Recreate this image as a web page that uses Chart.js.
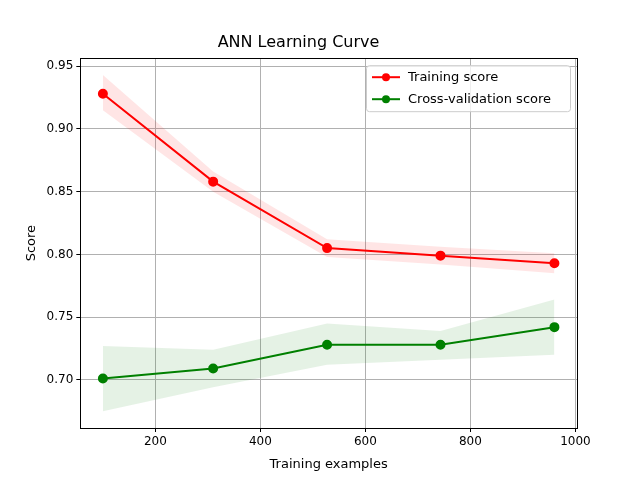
<!DOCTYPE html>
<html><head><meta charset="utf-8">
<script src="https://cdn.jsdelivr.net/npm/chart.js@4/dist/chart.umd.min.js"></script>
<style>body{margin:0;background:#fff}#wrap{width:640px;height:480px}</style>
</head><body><div id="wrap"><canvas id="c"></canvas></div>
<script>
const sizes = [100, 310, 527, 743, 960];
const trainMean = [0.928, 0.858, 0.805, 0.799, 0.793];
const trainHi = [0.943, 0.866, 0.812, 0.806, 0.801];
const trainLo = [0.915, 0.850, 0.798, 0.792, 0.785];
const cvMean = [0.701, 0.709, 0.728, 0.728, 0.742];
const cvHi = [0.727, 0.724, 0.745, 0.739, 0.764];
const cvLo = [0.675, 0.694, 0.712, 0.716, 0.720];
const xTicks = [200, 400, 600, 800, 1000];
const yTicks = [0.70, 0.75, 0.80, 0.85, 0.90, 0.95];

const pts = arr => arr.map((v, i) => ({x: sizes[i], y: v}));
const band = (arr, color, fill) => ({data: pts(arr), borderWidth: 0, pointRadius: 0, showLine: true,
  backgroundColor: color, fill: fill, tension: 0});

// рамка вокруг области графика и легенда внутри неё
const frameAndLegend = {
  id: 'frameAndLegend',
  afterDraw(chart) {
    const {ctx, chartArea: a} = chart;
    ctx.save();
    ctx.strokeStyle = '#000'; ctx.lineWidth = 1;
    ctx.strokeRect(Math.round(a.left) + 0.5, Math.round(a.top) + 0.5,
      Math.round(a.right - a.left), Math.round(a.bottom - a.top));
    const w = 204, h = 46, x = a.right - w - 7, y = a.top + 7;
    ctx.fillStyle = 'rgba(255,255,255,0.8)'; ctx.strokeStyle = '#ccc';
    ctx.beginPath(); ctx.roundRect(x + 0.5, y + 0.5, w, h, 3); ctx.fill(); ctx.stroke();
    const items = [['Training score', 'red'], ['Cross-validation score', 'green']];
    ctx.font = '13px "DejaVu Sans"'; ctx.textBaseline = 'middle';
    items.forEach(([t, c], i) => {
      const yy = y + 12 + i * 22;
      ctx.strokeStyle = c; ctx.lineWidth = 2;
      ctx.beginPath(); ctx.moveTo(x + 6, yy); ctx.lineTo(x + 34, yy); ctx.stroke();
      ctx.fillStyle = c; ctx.beginPath(); ctx.arc(x + 20, yy, 4, 0, Math.PI * 2); ctx.fill();
      ctx.fillStyle = '#000'; ctx.fillText(t, x + 42, yy);
    });
    ctx.restore();
  }
};

new Chart(document.getElementById('c'), {
  type: 'scatter',
  data: {datasets: [
    band(trainHi, 'rgba(255,0,0,0.1)', '+1'),
    band(trainLo, 'rgba(255,0,0,0.1)', false),
    band(cvHi, 'rgba(0,128,0,0.1)', '+1'),
    band(cvLo, 'rgba(0,128,0,0.1)', false),
    {label: 'Training score', data: pts(trainMean), showLine: true, borderColor: 'red', backgroundColor: 'red',
      borderWidth: 2, pointRadius: 4, pointHoverRadius: 4},
    {label: 'Cross-validation score', data: pts(cvMean), showLine: true, borderColor: 'green', backgroundColor: 'green',
      borderWidth: 2, pointRadius: 4, pointHoverRadius: 4}
  ]},
  options: {
    responsive: true, maintainAspectRatio: false, animation: false,
    layout: {padding: {left: 20, right: 63, top: 0, bottom: 4}},
    plugins: {
      legend: {display: false}, tooltip: {enabled: false},
      title: {display: true, text: 'ANN Learning Curve', color: '#000',
        font: {family: 'DejaVu Sans', size: 16, weight: 'normal'}, padding: {top: 33, bottom: 6}}
    },
    scales: {
      x: {type: 'linear', min: 57, max: 1003,
        afterBuildTicks: s => { s.ticks = xTicks.map(v => ({value: v})); },
        ticks: {color: '#000', font: {family: 'DejaVu Sans', size: 12}, maxRotation: 0, callback: v => String(v)},
        grid: {color: '#b0b0b0', tickColor: '#000', tickLength: 4},
        border: {color: '#000'},
        title: {display: true, text: 'Training examples', color: '#000', font: {family: 'DejaVu Sans', size: 13}}},
      y: {min: 0.6616, max: 0.9564,
        afterBuildTicks: s => { s.ticks = yTicks.map(v => ({value: v})); },
        ticks: {color: '#000', font: {family: 'DejaVu Sans', size: 12}, callback: v => v.toFixed(2)},
        grid: {color: '#b0b0b0', tickColor: '#000', tickLength: 4},
        border: {color: '#000'},
        title: {display: true, text: 'Score', color: '#000', font: {family: 'DejaVu Sans', size: 13}}}
    }
  },
  plugins: [frameAndLegend]
});
</script></body></html>
